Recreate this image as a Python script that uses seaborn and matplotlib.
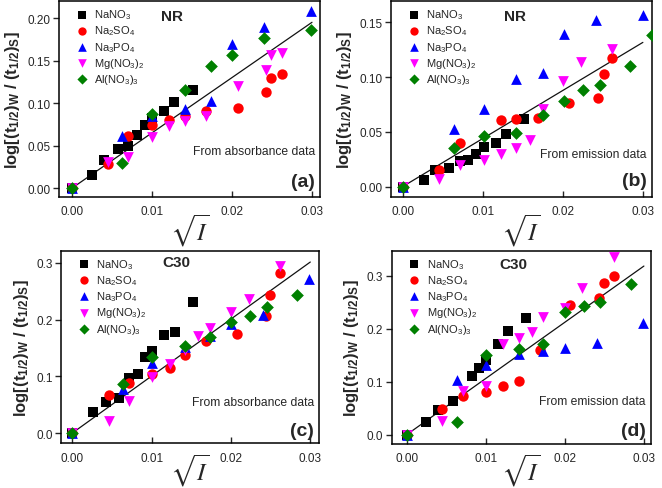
import matplotlib
matplotlib.use("Agg")
import matplotlib.pyplot as plt
import numpy as np
import pandas as pd
import seaborn as sns

# ---- data: sqrt(I) vs log[(t1/2)W / (t1/2)S] ----
salts = ["NaNO$_3$", "Na$_2$SO$_4$", "Na$_3$PO$_4$", "Mg(NO$_3$)$_2$", "Al(NO$_3$)$_3$"]

# (a) NR, absorbance
a_nano3_x = [0, 0.0025, 0.0040, 0.0058, 0.0070, 0.0082, 0.0091, 0.0100, 0.0115, 0.0128, 0.0152]
a_nano3_y = [0, 0.016, 0.033, 0.046, 0.050, 0.063, 0.074, 0.082, 0.091, 0.101, 0.115]
a_na2so4_x = [0, 0.0045, 0.0070, 0.0100, 0.0122, 0.0142, 0.0168, 0.0207, 0.0243, 0.0249, 0.0262]
a_na2so4_y = [0, 0.028, 0.061, 0.074, 0.080, 0.085, 0.091, 0.094, 0.113, 0.130, 0.134]
a_na3po4_x = [0, 0.0063, 0.0100, 0.0142, 0.0174, 0.0200, 0.0240, 0.0299]
a_na3po4_y = [0, 0.061, 0.085, 0.093, 0.102, 0.170, 0.190, 0.208]
a_mgno32_x = [0, 0.0045, 0.0070, 0.0100, 0.0122, 0.0142, 0.0168, 0.0207, 0.0243, 0.0249, 0.0262]
a_mgno32_y = [0, 0.031, 0.037, 0.060, 0.073, 0.079, 0.085, 0.120, 0.139, 0.156, 0.159]
a_alno33_x = [0, 0.0063, 0.0100, 0.0142, 0.0174, 0.0200, 0.0240, 0.0299]
a_alno33_y = [0, 0.030, 0.087, 0.116, 0.144, 0.156, 0.176, 0.186]

# (b) NR, emission
b_nano3_x = [0, 0.0026, 0.0040, 0.0058, 0.0071, 0.0082, 0.0092, 0.0101, 0.0116, 0.0129, 0.0152]
b_nano3_y = [0, 0.006, 0.015, 0.017, 0.023, 0.024, 0.030, 0.036, 0.040, 0.048, 0.062]
b_na2so4_x = [0, 0.0045, 0.0071, 0.0123, 0.0142, 0.0169, 0.0208, 0.0244, 0.0251, 0.0262]
b_na2so4_y = [0, 0.015, 0.040, 0.061, 0.062, 0.063, 0.076, 0.081, 0.103, 0.117]
b_na3po4_x = [0, 0.0064, 0.0101, 0.0142, 0.0175, 0.0201, 0.0241, 0.0300]
b_na3po4_y = [0, 0.053, 0.071, 0.098, 0.104, 0.139, 0.152, 0.157]
b_mgno32_x = [0, 0.0045, 0.0071, 0.0101, 0.0123, 0.0142, 0.0159, 0.0175, 0.0200, 0.0223, 0.0262]
b_mgno32_y = [0, 0.007, 0.020, 0.024, 0.030, 0.035, 0.043, 0.071, 0.096, 0.114, 0.126]
b_alno33_x = [0, 0.0064, 0.0101, 0.0142, 0.0175, 0.0201, 0.0225, 0.0246, 0.0284, 0.0312]
b_alno33_y = [0, 0.035, 0.046, 0.049, 0.065, 0.078, 0.088, 0.093, 0.110, 0.138]

# (c) C30, absorbance
c_nano3_x = [0, 0.0026, 0.0042, 0.0059, 0.0071, 0.0083, 0.0092, 0.0101, 0.0116, 0.0129, 0.0152]
c_nano3_y = [0, 0.037, 0.054, 0.061, 0.097, 0.105, 0.134, 0.144, 0.173, 0.179, 0.231]
c_na2so4_x = [0, 0.0046, 0.0071, 0.0100, 0.0123, 0.0142, 0.0168, 0.0208, 0.0244, 0.0249, 0.0262]
c_na2so4_y = [0, 0.067, 0.088, 0.104, 0.114, 0.138, 0.162, 0.174, 0.207, 0.244, 0.282]
c_na3po4_x = [0, 0.0064, 0.0101, 0.0142, 0.0174, 0.0200, 0.0241, 0.0299]
c_na3po4_y = [0, 0.078, 0.124, 0.151, 0.171, 0.192, 0.208, 0.271]
c_mgno32_x = [0, 0.0046, 0.0071, 0.0101, 0.0123, 0.0142, 0.0158, 0.0174, 0.0200, 0.0223, 0.0262]
c_mgno32_y = [0, 0.022, 0.057, 0.098, 0.122, 0.146, 0.171, 0.185, 0.214, 0.237, 0.294]
c_alno33_x = [0, 0.0064, 0.0101, 0.0142, 0.0174, 0.0200, 0.0224, 0.0245, 0.0283]
c_alno33_y = [0, 0.087, 0.134, 0.154, 0.170, 0.196, 0.207, 0.223, 0.244]

# (d) C30, emission
d_nano3_x = [0, 0.0025, 0.0039, 0.0058, 0.0082, 0.0091, 0.0100, 0.0115, 0.0128, 0.0151]
d_nano3_y = [0, 0.023, 0.047, 0.064, 0.110, 0.126, 0.140, 0.171, 0.195, 0.220]
d_na2so4_x = [0, 0.0044, 0.0071, 0.0100, 0.0122, 0.0142, 0.0168, 0.0207, 0.0243, 0.0250, 0.0262]
d_na2so4_y = [0, 0.048, 0.073, 0.081, 0.091, 0.101, 0.159, 0.244, 0.258, 0.286, 0.300]
d_na3po4_x = [0, 0.0064, 0.0100, 0.0142, 0.0173, 0.0200, 0.0241, 0.0299]
d_na3po4_y = [0, 0.103, 0.131, 0.152, 0.157, 0.163, 0.173, 0.210]
d_mgno32_x = [0, 0.0044, 0.0071, 0.0100, 0.0122, 0.0142, 0.0159, 0.0173, 0.0200, 0.0222, 0.0262]
d_mgno32_y = [0, 0.025, 0.082, 0.091, 0.171, 0.182, 0.193, 0.221, 0.239, 0.277, 0.335]
d_alno33_x = [0, 0.0064, 0.0100, 0.0142, 0.0173, 0.0200, 0.0224, 0.0245, 0.0284]
d_alno33_y = [0, 0.023, 0.151, 0.162, 0.171, 0.231, 0.243, 0.251, 0.285]

# fitted lines (slope through origin), drawn up to sqrt(I) = 0.03
fit_slopes = [6.5, 4.39, 10.05, 10.6]
fit_x = [0.0, 0.030]

titles = ["NR", "NR", "C30", "C30"]
sources = ["From absorbance data", "From emission data",
           "From absorbance data", "From emission data"]
tags = ["(a)", "(b)", "(c)", "(d)"]

colors = ["black", "#ff0000", "#0000ff", "#ff00ff", "#008000"]
markers = ["s", "o", "^", "v", "D"]
sizes = [42, 56, 60, 60, 42]

panel_data = [
    [(a_nano3_x, a_nano3_y), (a_na2so4_x, a_na2so4_y), (a_na3po4_x, a_na3po4_y),
     (a_mgno32_x, a_mgno32_y), (a_alno33_x, a_alno33_y)],
    [(b_nano3_x, b_nano3_y), (b_na2so4_x, b_na2so4_y), (b_na3po4_x, b_na3po4_y),
     (b_mgno32_x, b_mgno32_y), (b_alno33_x, b_alno33_y)],
    [(c_nano3_x, c_nano3_y), (c_na2so4_x, c_na2so4_y), (c_na3po4_x, c_na3po4_y),
     (c_mgno32_x, c_mgno32_y), (c_alno33_x, c_alno33_y)],
    [(d_nano3_x, d_nano3_y), (d_na2so4_x, d_na2so4_y), (d_na3po4_x, d_na3po4_y),
     (d_mgno32_x, d_mgno32_y), (d_alno33_x, d_alno33_y)],
]

# axes boxes in figure fraction and limits, matched to the reference
boxes = [
    [0.0896, 0.5951, 0.3938, 0.4008],
    [0.5902, 0.5951, 0.3942, 0.4008],
    [0.0921, 0.0914, 0.3898, 0.3939],
    [0.5917, 0.0900, 0.3917, 0.3953],
]
xlims = [(-0.00155, 0.0310), (-0.0015, 0.0311), (-0.00142, 0.0311), (-0.0019, 0.0309)]
ylims = [(-0.0102, 0.220), (-0.0095, 0.1695), (-0.018, 0.3215), (-0.0176, 0.347)]
yticks = [[0, 0.05, 0.10, 0.15, 0.20], [0, 0.05, 0.10, 0.15],
          [0, 0.1, 0.2, 0.3], [0, 0.1, 0.2, 0.3]]
yfmt = ["{:.2f}", "{:.2f}", "{:.1f}", "{:.1f}"]
title_x = [0.432, 0.476, 0.448, 0.469]
title_y = [0.925, 0.925, 0.94, 0.933]
source_y = [0.236, 0.22, 0.216, 0.224]
tag_y = [0.077, 0.083, 0.065, 0.069]
xlabel_y = [-0.165, -0.165, -0.135, -0.135]

sns.set_style("ticks")
plt.rcParams["font.family"] = ["Liberation Sans", "DejaVu Sans"]
plt.rcParams["mathtext.default"] = "regular"

fig = plt.figure(figsize=(6.62, 4.89), dpi=100)

for i in range(4):
    ax = fig.add_axes(boxes[i])
    for j, (xs, ys) in enumerate(panel_data[i]):
        df = pd.DataFrame({"x": xs, "y": ys})
        sns.scatterplot(data=df, x="x", y="y", ax=ax, color=colors[j],
                        marker=markers[j], s=sizes[j], linewidth=0,
                        label=salts[j], zorder=3)
    line_df = pd.DataFrame({"x": fit_x, "y": np.array(fit_x) * fit_slopes[i]})
    sns.lineplot(data=line_df, x="x", y="y", ax=ax, color="#111111",
                 linewidth=0.9, zorder=2)

    ax.set_xlim(*xlims[i])
    ax.set_ylim(*ylims[i])
    ax.set_xticks([0, 0.01, 0.02, 0.03])
    ax.set_xticklabels(["0.00", "0.01", "0.02", "0.03"])
    ax.set_yticks(yticks[i])
    ax.set_yticklabels([yfmt[i].format(v) for v in yticks[i]])
    ax.tick_params(axis="x", direction="in", length=4, width=1, labelsize=8.5, pad=6)
    ax.tick_params(axis="y", direction="out", length=4, width=1, labelsize=8.5, pad=2)
    for sp in ax.spines.values():
        sp.set_visible(True)
        sp.set_linewidth(1.1)
        sp.set_color("black")

    ax.set_xlabel(r"$\sqrt{\mathit{I}}$", fontsize=18, math_fontfamily="stix")
    ax.xaxis.set_label_coords(0.5, xlabel_y[i])
    ax.xaxis.label.set_va("center")
    ax.set_ylabel(r"log[(t$_{1/2}$)$_W$ / (t$_{1/2}$)$_S$]",
                  fontsize=12, fontweight="bold")

    ax.legend(loc="upper left", bbox_to_anchor=(0.045, 1.0), frameon=False,
              fontsize=8, handlelength=0.8, handletextpad=0.7, markerscale=0.8,
              labelspacing=0.2, borderaxespad=0.2, scatterpoints=1)

    ax.text(title_x[i], title_y[i], titles[i], transform=ax.transAxes,
            ha="center", va="center", fontsize=11, fontweight="bold")
    ax.text(0.98, source_y[i], sources[i], transform=ax.transAxes,
            ha="right", va="center", fontsize=8.7)
    ax.text(0.98, tag_y[i], tags[i], transform=ax.transAxes,
            ha="right", va="center", fontsize=14, fontweight="bold")

fig.savefig("out.png", dpi=100)
